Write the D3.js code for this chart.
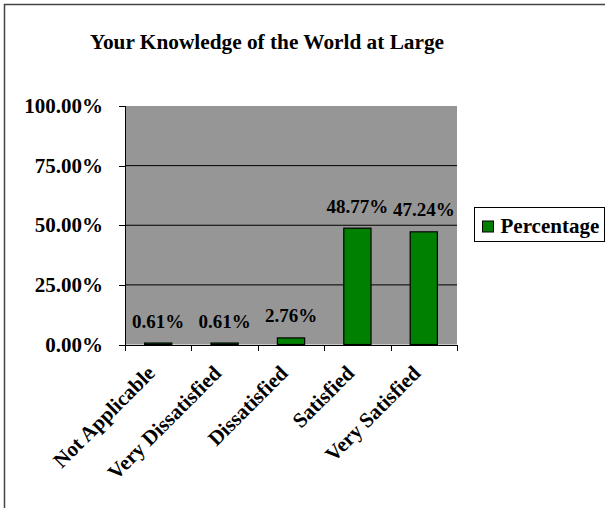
<!DOCTYPE html>
<meta charset="utf-8">
<style>
    body { margin: 0; background: #fff; }
    text { font-family: "Liberation Serif", "Times New Roman", serif; font-weight: bold; fill: #000; }
    .axis path, .axis line { stroke: #000; shape-rendering: crispEdges; }
</style>
<svg width="605" height="508"></svg>
<script src="https://d3js.org/d3.v7.min.js"></script>
<script>
    // chart data
    var categories = ["Not Applicable", "Very Dissatisfied", "Dissatisfied", "Satisfied", "Very Satisfied"];
    var percentages = [0.61, 0.61, 2.76, 48.77, 47.24];
    var yTicks = [0, 25, 50, 75, 100];
    var seriesName = "Percentage";

    var svg = d3.select("svg");

    // outer chart border (runs off the right / bottom of the picture)
    svg.append("rect")
        .attr("x", 4.5).attr("y", 4.5)
        .attr("width", 640).attr("height", 540)
        .attr("fill", "none")
        .attr("stroke", "#444")
        .attr("stroke-width", 1.5);

    var plotLeft = 125, plotRight = 457, plotTop = 106, plotBottom = 344.5;

    var y = d3.scaleLinear().domain([0, 100]).range([plotBottom, plotTop]);
    var x = d3.scaleBand().domain(categories).range([plotLeft, plotRight])
        .paddingInner(0.59).paddingOuter(0.295);
    var xTick = d3.scaleLinear().domain([0, categories.length]).range([plotLeft, plotRight]);

    // plot area
    svg.append("rect")
        .attr("x", plotLeft).attr("y", plotTop)
        .attr("width", plotRight - plotLeft).attr("height", plotBottom - plotTop)
        .attr("fill", "#969696");

    // gridlines
    svg.append("g")
        .selectAll("line")
        .data(yTicks.filter(function (d) { return d > 0 && d < 100; }))
        .enter().append("line")
        .attr("x1", plotLeft).attr("x2", plotRight)
        .attr("y1", function (d) { return y(d); })
        .attr("y2", function (d) { return y(d); })
        .attr("stroke", "#000")
        .attr("stroke-width", 1);

    // bars
    svg.append("g")
        .selectAll("rect")
        .data(percentages)
        .enter().append("rect")
        .attr("x", function (d, i) { return x(categories[i]); })
        .attr("y", function (d) { return y(d); })
        .attr("width", x.bandwidth())
        .attr("height", function (d) { return plotBottom - y(d); })
        .attr("fill", "#008000")
        .attr("stroke", "#000")
        .attr("stroke-width", 1.2);

    // data labels
    svg.append("g")
        .selectAll("text")
        .data(percentages)
        .enter().append("text")
        .attr("x", function (d, i) { return x(categories[i]) + x.bandwidth() / 2; })
        .attr("y", function (d) { return y(d) - 15.5; })
        .attr("text-anchor", "middle")
        .style("font-size", "19px")
        .text(function (d) { return d.toFixed(2) + "%"; });

    // y axis
    var yAxis = svg.append("g")
        .attr("class", "axis")
        .attr("transform", "translate(" + plotLeft + ",0)")
        .call(d3.axisLeft(y).tickValues(yTicks).tickSize(6).tickPadding(16)
            .tickSizeOuter(0)
            .tickFormat(function (d) { return d.toFixed(2) + "%"; }));
    yAxis.selectAll("text").style("font-size", "21px")
        .style("font-family", "'Liberation Serif', serif").style("font-weight", "bold");
    yAxis.select(".domain").remove();
    svg.append("line")
        .attr("x1", plotLeft).attr("x2", plotLeft).attr("y1", plotTop).attr("y2", plotBottom)
        .attr("stroke", "#000").style("shape-rendering", "crispEdges");

    // x axis (ticks at category boundaries)
    svg.append("g")
        .attr("class", "axis")
        .attr("transform", "translate(0," + plotBottom + ")")
        .call(d3.axisBottom(xTick).tickValues(d3.range(categories.length + 1))
            .tickSize(6).tickSizeOuter(0).tickFormat(""));

    // rotated category labels
    svg.append("g")
        .selectAll("text")
        .data(categories)
        .enter().append("text")
        .attr("transform", function (d) {
            return "translate(" + (x(d) + x.bandwidth() / 2 - 2) + "," + (plotBottom + 30) + ") rotate(-45)";
        })
        .attr("text-anchor", "end")
        .style("font-size", "21px")
        .text(function (d) { return d; });

    // title
    svg.append("text")
        .attr("x", 267).attr("y", 49)
        .attr("text-anchor", "middle")
        .style("font-size", "21.3px")
        .text("Your Knowledge of the World at Large");

    // legend
    var legend = svg.append("g").attr("transform", "translate(474.5,207.5)");
    legend.append("rect")
        .attr("width", 130).attr("height", 34)
        .attr("fill", "#fff").attr("stroke", "#000");
    legend.append("rect")
        .attr("x", 8).attr("y", 13.5)
        .attr("width", 11).attr("height", 11)
        .attr("fill", "#008000").attr("stroke", "#000");
    legend.append("text")
        .attr("x", 26).attr("y", 25.5)
        .style("font-size", "21px")
        .text(seriesName);
</script>
